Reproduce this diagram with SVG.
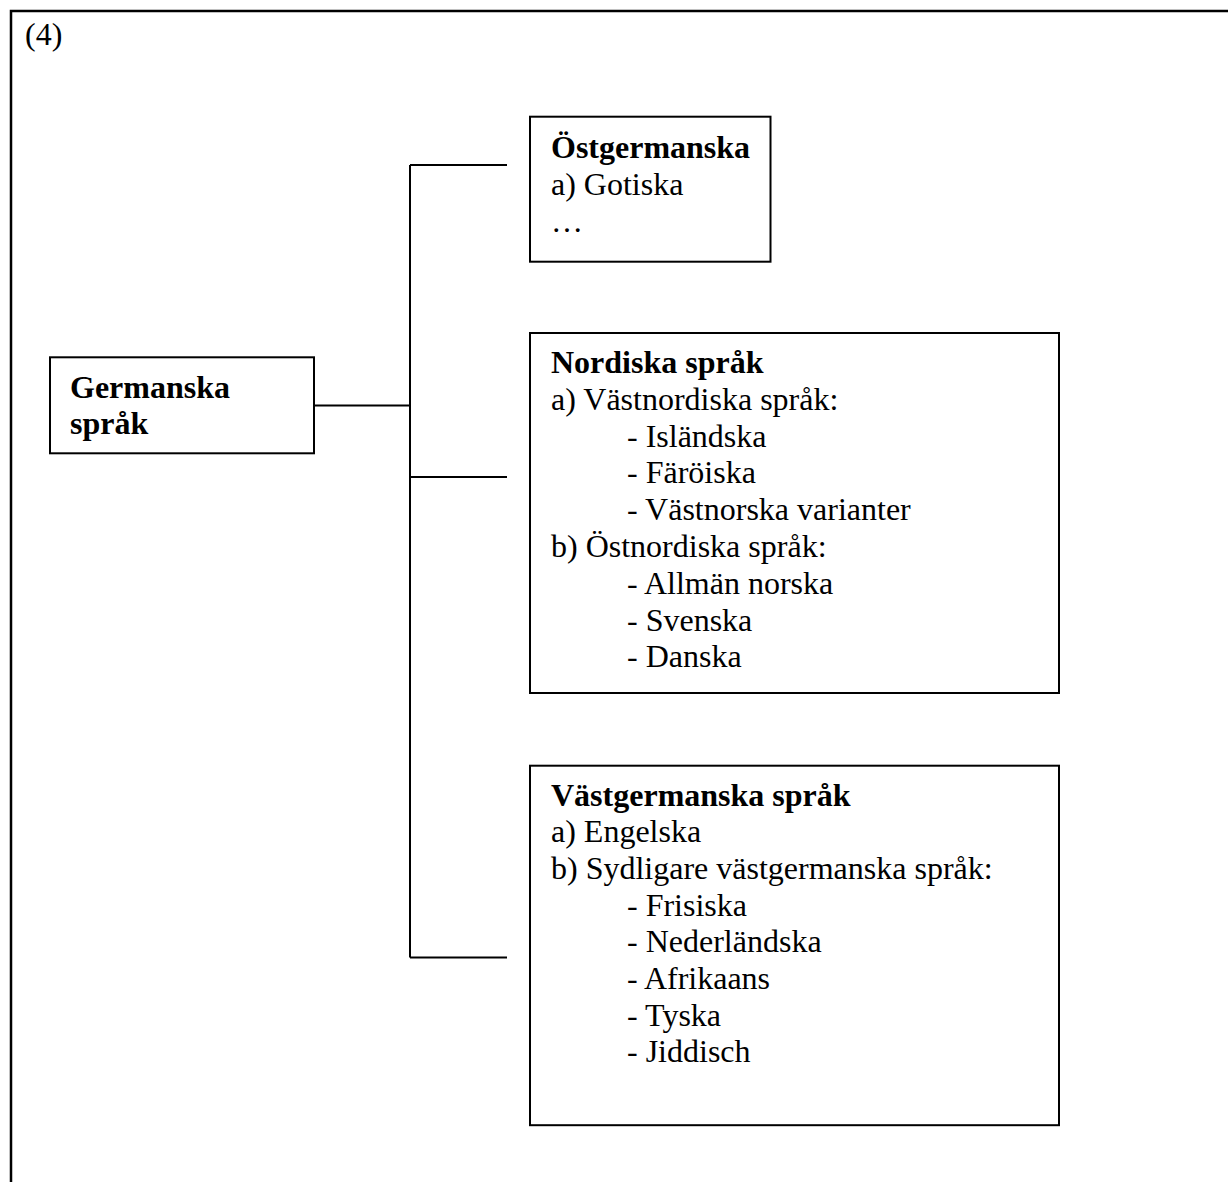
<svg xmlns="http://www.w3.org/2000/svg" width="1228" height="1182" viewBox="0 0 1228 1182">
<style>
text{font-family:"Liberation Serif","Times New Roman",serif;font-size:32px;fill:#000}
.b{font-weight:bold}
.box{fill:#fff;stroke:#000;stroke-width:2}
.conn{stroke:#000;stroke-width:2;fill:none}
.frame{stroke:#000;stroke-width:2.5;fill:none}
</style>
<rect width="1228" height="1182" fill="#fff"/>
<g id="frame">
<path class="frame" d="M11,1182 V11 H1228"/>
<text x="25" y="45">(4)</text>
</g>
<g id="connectors">
<line class="conn" x1="314" y1="405.5" x2="410" y2="405.5"/>
<line class="conn" x1="410" y1="165" x2="410" y2="957.5"/>
<line class="conn" x1="410" y1="165" x2="507" y2="165"/>
<line class="conn" x1="410" y1="477" x2="507" y2="477"/>
<line class="conn" x1="410" y1="957.5" x2="507" y2="957.5"/>
</g>
<g id="germanska">
<rect class="box" x="50" y="357.3" width="264" height="96"/>
<text class="b" x="70" y="398">Germanska</text>
<text class="b" x="70" y="434">språk</text>
</g>
<g id="ostgermanska">
<rect class="box" x="530" y="116.7" width="240.5" height="145"/>
<text class="b" x="551" y="158.3">Östgermanska</text>
<text x="551" y="195">a) Gotiska</text>
<text x="551" y="231.7">…</text>
</g>
<g id="nordiska">
<rect class="box" x="530" y="333" width="529" height="360"/>
<text class="b" x="551" y="373">Nordiska språk</text>
<text x="551" y="409.8">a) Västnordiska språk:</text>
<text x="627" y="446.6">- Isländska</text>
<text x="627" y="483.4">- Färöiska</text>
<text x="627" y="520.2">- Västnorska varianter</text>
<text x="551" y="557">b) Östnordiska språk:</text>
<text x="627" y="593.8">- Allmän norska</text>
<text x="627" y="630.6">- Svenska</text>
<text x="627" y="667.4">- Danska</text>
</g>
<g id="vastgermanska">
<rect class="box" x="530" y="765.7" width="529" height="359.5"/>
<text class="b" x="551" y="805.5">Västgermanska språk</text>
<text x="551" y="842.2">a) Engelska</text>
<text x="551" y="878.9">b) Sydligare västgermanska språk:</text>
<text x="627" y="915.6">- Frisiska</text>
<text x="627" y="952.3">- Nederländska</text>
<text x="627" y="989">- Afrikaans</text>
<text x="627" y="1025.7">- Tyska</text>
<text x="627" y="1062.4">- Jiddisch</text>
</g>
</svg>
